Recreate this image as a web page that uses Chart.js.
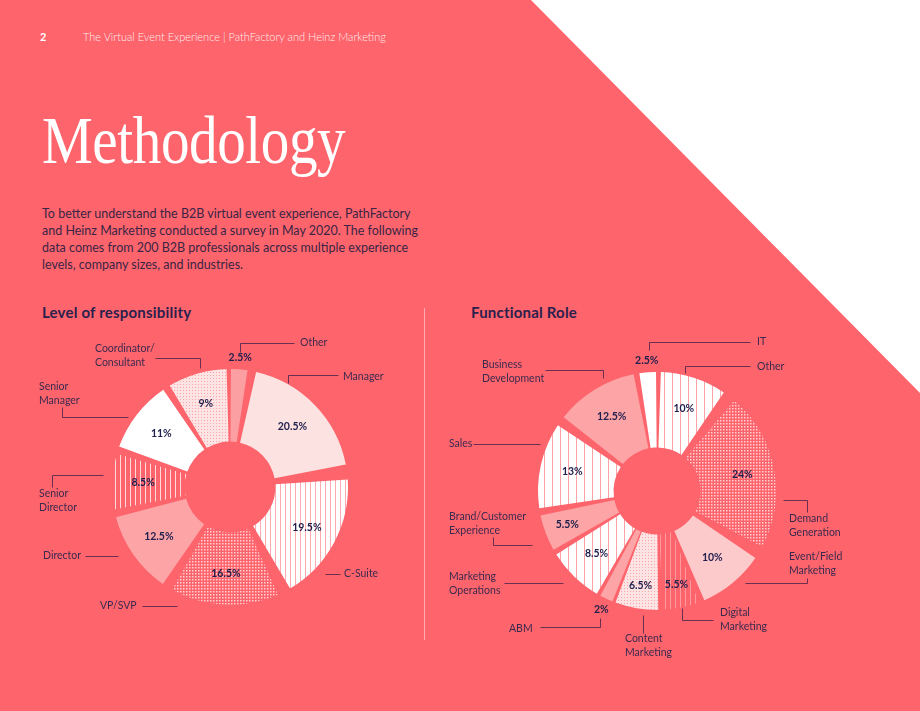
<!DOCTYPE html>
<html lang="en">
<head>
<meta charset="UTF-8">
<title>Methodology</title>
<style>
    body {
        margin: 0;
        width: 920px;
        height: 711px;
        background: #fe646c;
        font-family: Lato, "Open Sans", sans-serif;
        position: relative;
        overflow: hidden;
    }
    .corner {
        position: absolute;
        left: 0; top: 0;
        width: 920px; height: 711px;
        background: #fff;
        clip-path: polygon(531px 0, 920px 0, 920px 393px);
    }
    .pageno {
        position: absolute; left: 40px; top: 30px;
        color: #fff; font-size: 11px; font-weight: 700;
    }
    .running {
        position: absolute; left: 83px; top: 30px;
        color: rgba(255,255,255,0.92); font-size: 11px; font-weight: 300;
    }
    h1 {
        position: absolute; left: 42px; top: 106px; margin: 0;
        font-family: "Liberation Serif", serif; font-weight: 400;
        font-size: 68px; line-height: 68px; color: #fff;
        transform: scaleX(0.84); transform-origin: left;
        letter-spacing: -0.5px;
    }
    .intro {
        position: absolute; left: 42px; top: 205px; margin: 0;
        font-size: 12.5px; line-height: 17px; color: #3a2445;
    }
    h2 {
        position: absolute; top: 303px; margin: 0;
        font-size: 15px; font-weight: 700; color: #2b1f4d; letter-spacing: 0.2px;
    }
    .divider {
        position: absolute; left: 424px; top: 308px; width: 1px; height: 332px;
        background: rgba(255,255,255,0.45);
    }
    canvas.full {
        position: absolute; left: 0; top: 0;
    }
</style>
</head>
<body>
<div class="corner"></div>
<div class="pageno">2</div>
<div class="running">The Virtual Event Experience | PathFactory and Heinz Marketing</div>
<h1>Methodology</h1>
<p class="intro">To better understand the B2B virtual event experience, PathFactory<br>and Heinz Marketing conducted a survey in May 2020. The following<br>data comes from 200 B2B professionals across multiple experience<br>levels, company sizes, and industries.</p>
<h2 style="left:42px">Level of responsibility</h2>
<h2 style="left:471px">Functional Role</h2>
<div class="divider"></div>
<div style="position:absolute;left:0;top:0;width:920px;height:711px"><canvas id="respChart" class="full"></canvas></div>
<div style="position:absolute;left:0;top:0;width:920px;height:711px"><canvas id="roleChart" class="full"></canvas></div>

<script src="https://cdn.jsdelivr.net/npm/chart.js"></script>
<script>
    // --- data ---
    const respLabels = ['Other', 'Manager', 'C-Suite', 'VP/SVP', 'Director', 'Senior Director', 'Senior Manager', 'Coordinator/Consultant'];
    const respValues = [2.5, 20.5, 19.5, 16.5, 12.5, 8.5, 11, 9];

    const roleLabels = ['Other', 'Demand Generation', 'Event/Field Marketing', 'Digital Marketing', 'Content Marketing', 'ABM',
        'Marketing Operations', 'Brand/Customer Experience', 'Sales', 'Business Development', 'IT'];
    const roleValues = [10, 24, 10, 5.5, 6.5, 2, 8.5, 5.5, 13, 12.5, 2.5];

    // --- callout layout (text lines, text position, leader line points) ---
    const respCallouts = [
        { lines: ['Other'], x: 300, y: 343, path: [[240, 352], [240, 343], [294, 343]] },
        { lines: ['Manager'], x: 343, y: 377, path: [[288, 383], [288, 375], [338, 375]] },
        { lines: ['C-Suite'], x: 344, y: 574, path: [[325, 574], [340, 574]] },
        { lines: ['VP/SVP'], x: 100, y: 606, path: [[142, 606], [177, 606]] },
        { lines: ['Director'], x: 43, y: 556, path: [[85, 556], [118, 556]] },
        { lines: ['Senior', 'Director'], x: 39, y: 494, path: [[52, 487], [52, 475], [103, 475]] },
        { lines: ['Senior', 'Manager'], x: 39, y: 387, path: [[62, 407], [62, 417], [128, 417]] },
        { lines: ['Coordinator/', 'Consultant'], x: 95, y: 349, path: [[155, 358], [200, 358], [200, 368]] }
    ];
    const roleCallouts = [
        { lines: ['IT'], x: 757, y: 342, path: [[649, 350], [649, 342], [750, 342]] },
        { lines: ['Other'], x: 757, y: 367, path: [[685, 373], [685, 366], [750, 366]] },
        { lines: ['Business', 'Development'], x: 482, y: 365, path: [[545, 370], [603, 370], [603, 378]] },
        { lines: ['Sales'], x: 449, y: 444, path: [[473, 444], [540, 444]] },
        { lines: ['Brand/Customer', 'Experience'], x: 449, y: 517, path: [[493, 537], [493, 545], [532, 545]] },
        { lines: ['Marketing', 'Operations'], x: 449, y: 577, path: [[504, 583], [563, 583]] },
        { lines: ['ABM'], x: 509, y: 629, path: [[540, 627], [600, 627], [600, 618]] },
        { lines: ['Content', 'Marketing'], x: 625, y: 639, path: [[643, 615], [643, 633]] },
        { lines: ['Digital', 'Marketing'], x: 720, y: 613, path: [[682, 608], [682, 620], [713, 620]] },
        { lines: ['Event/Field', 'Marketing'], x: 789, y: 557, path: [[745, 583], [807, 583], [807, 578]] },
        { lines: ['Demand', 'Generation'], x: 789, y: 519, path: [[783, 500], [807, 500], [807, 512]] }
    ];

    // --- fills ---
    const CORAL = '#fe646c';
    function makePattern(w, h, draw) {
        const c = document.createElement('canvas');
        c.width = w; c.height = h;
        const g = c.getContext('2d');
        draw(g);
        return g.createPattern(c, 'repeat');
    }
    function stripes(bg, fg, period, lw) {
        return makePattern(period, 4, g => {
            g.fillStyle = bg; g.fillRect(0, 0, period, 4);
            g.fillStyle = fg; g.fillRect(0, 0, lw, 4);
        });
    }
    function dots(bg, fg, period, size) {
        return makePattern(period, period, g => {
            g.fillStyle = bg; g.fillRect(0, 0, period, period);
            g.fillStyle = fg; g.fillRect(0, 0, size, size);
        });
    }
    const pinkOnWhiteFine = stripes('#ffffff', 'rgba(254,100,108,0.55)', 5, 1);
    const pinkOnWhiteWide = stripes('#ffffff', 'rgba(254,100,108,0.6)', 8, 1);
    const whiteOnCoral = stripes(CORAL, 'rgba(255,255,255,0.75)', 5, 1);
    const faintOnCoral = stripes(CORAL, 'rgba(255,255,255,0.35)', 5, 1);
    const denseDots = dots(CORAL, 'rgba(255,230,230,0.85)', 3, 1.5);
    const lightDots = dots('#fde4e4', 'rgba(254,100,108,0.5)', 3, 1);

    const respFills = ['#fb9fa2', '#fde2e2', pinkOnWhiteFine, denseDots, '#fca4a6', whiteOnCoral, '#ffffff', lightDots];
    const roleFills = [pinkOnWhiteWide, denseDots, '#fdcacb', faintOnCoral, lightDots, '#fca4a6',
        pinkOnWhiteWide, '#fca4a6', pinkOnWhiteWide, '#fca4a6', '#ffffff'];

    // percentage labels + callouts
    const annotate = {
        id: 'annotate',
        afterDatasetsDraw(chart, args, opts) {
            const ctx = chart.ctx;
            const meta = chart.getDatasetMeta(0);
            const values = chart.data.datasets[0].data;
            ctx.save();
            ctx.font = '700 10.5px Lato, sans-serif';
            ctx.fillStyle = '#1f1f4d';
            ctx.textAlign = 'center';
            ctx.textBaseline = 'middle';
            meta.data.forEach((arc, i) => {
                const p = arc.getProps(['x', 'y', 'startAngle', 'endAngle', 'innerRadius', 'outerRadius'], true);
                const mid = (p.startAngle + p.endAngle) / 2;
                const v = values[i];
                let r;
                if (v < 3) r = p.outerRadius + 20;
                else if (v < 7) r = p.innerRadius + 0.72 * (p.outerRadius - p.innerRadius) + 6;
                else r = p.innerRadius + 0.6 * (p.outerRadius - p.innerRadius) + 6;
                ctx.fillText(v + '%', p.x + Math.cos(mid) * r, p.y + Math.sin(mid) * r);
            });
            // callouts
            ctx.strokeStyle = 'rgba(60,30,70,0.75)';
            ctx.lineWidth = 1;
            ctx.font = '400 10.5px Lato, sans-serif';
            ctx.fillStyle = '#3b2a4f';
            ctx.textAlign = 'left';
            opts.items.forEach(c => {
                ctx.beginPath();
                c.path.forEach((pt, k) => k ? ctx.lineTo(pt[0] + 0.5, pt[1] + 0.5) : ctx.moveTo(pt[0] + 0.5, pt[1] + 0.5));
                ctx.stroke();
                c.lines.forEach((t, k) => ctx.fillText(t, c.x, c.y + k * 14));
            });
            ctx.restore();
        }
    };

    function renderDonut(id, labels, values, fills, callouts, padding, radius, cutout) {
        const ctx = document.getElementById(id).getContext('2d');
        return new Chart(ctx, {
            type: 'doughnut',
            data: {
                labels: labels,
                datasets: [{
                    data: values,
                    backgroundColor: fills,
                    borderWidth: 0,
                    spacing: 16
                }]
            },
            options: {
                responsive: true,
                maintainAspectRatio: false,
                animation: false,
                events: [],
                radius: radius,
                cutout: cutout,
                rotation: 0,
                layout: { padding: padding },
                plugins: {
                    legend: { display: false },
                    tooltip: { enabled: false },
                    annotate: { items: callouts }
                }
            },
            plugins: [annotate]
        });
    }

    // centres: left (230, 487), right (657, 491)
    renderDonut('respChart', respLabels, respValues, respFills, respCallouts,
        { left: 0, right: 460, top: 290, bottom: 27 }, 110, '34%');
    renderDonut('roleChart', roleLabels, roleValues, roleFills, roleCallouts,
        { left: 394, right: 0, top: 290, bottom: 19 }, 111, '32%');
</script>
</body>
</html>
